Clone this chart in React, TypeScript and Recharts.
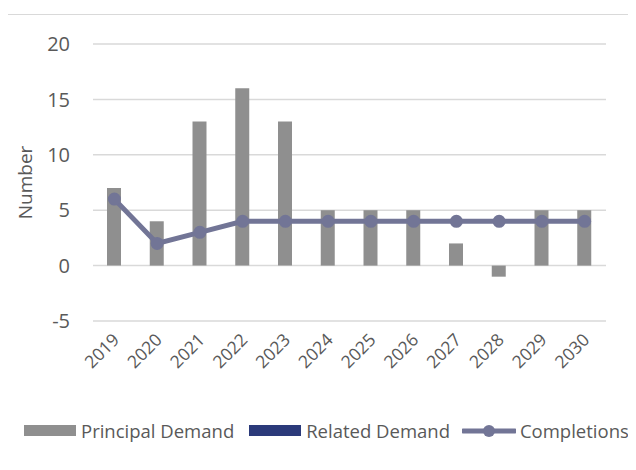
import React from "react";
import {
  Bar,
  CartesianGrid,
  ComposedChart,
  Legend,
  Line,
  XAxis,
  YAxis
} from "recharts";

const years = ["2019", "2020", "2021", "2022", "2023", "2024", "2025", "2026", "2027", "2028", "2029", "2030"];
const principalDemand = [7, 4, 13, 16, 13, 5, 5, 5, 2, -1, 5, 5];
const relatedDemand = [0, 0, 0, 0, 0, 0, 0, 0, 0, 0, 0, 0];
const completions = [6, 2, 3, 4, 4, 4, 4, 4, 4, 4, 4, 4];
const yTicks = [-5, 0, 5, 10, 15, 20];

const FONT = "'Open Sans', sans-serif";
const TEXT = "#595959";
const BAR_GREY = "#8f8f8f";
const NAVY = "#2b3a7a";
const LINE_COLOR = "#727596";

const data = years.map((year, i) => ({
  year,
  principal: principalDemand[i],
  related: relatedDemand[i],
  completions: completions[i]
}));

// rotated year labels, like the spreadsheet's -45deg axis
const YearTick = (props: any) => {
  const { x, y, payload } = props;
  return (
    <g transform={`translate(${x + 6},${y + 12})`}>
      <text
        textAnchor="end"
        transform="rotate(-45)"
        fontSize={17.5}
        fontFamily={FONT}
        fill={TEXT}
      >
        {payload.value}
      </text>
    </g>
  );
};

const LegendBox = () => (
  <div
    style={{
      display: "flex",
      alignItems: "center",
      fontFamily: FONT,
      fontSize: 18.5,
      color: TEXT,
      whiteSpace: "nowrap"
    }}
  >
    <span style={{ display: "inline-block", width: 52, height: 11, background: BAR_GREY, marginRight: 5 }} />
    <span style={{ marginRight: 15 }}>Principal Demand</span>
    <span style={{ display: "inline-block", width: 52, height: 11, background: NAVY, marginRight: 5 }} />
    <span style={{ marginRight: 12 }}>Related Demand</span>
    <svg width={54} height={14} style={{ marginRight: 4 }}>
      <line x1={1} y1={7} x2={53} y2={7} stroke={LINE_COLOR} strokeWidth={5} strokeLinecap="round" />
      <circle cx={27} cy={7} r={6} fill={LINE_COLOR} />
    </svg>
    <span>Completions</span>
  </div>
);

export default function App() {
  return (
    <div style={{ position: "relative", width: 636, height: 470, margin: -8, background: "#fff" }}>
      <div
        style={{
          position: "absolute",
          left: 7,
          top: 14,
          width: 626,
          height: 470,
          border: "1px solid #d9d9d9",
          boxSizing: "border-box"
        }}
      />
      <div style={{ position: "absolute", left: 0, top: 0 }}>
        <ComposedChart
          width={636}
          height={470}
          data={data}
          margin={{ top: 44, right: 30, bottom: 64, left: 0 }}
          barSize={14}
        >
          <CartesianGrid vertical={false} stroke="#d9d9d9" strokeWidth={1.5} />
          <XAxis
            dataKey="year"
            axisLine={false}
            tickLine={false}
            interval={0}
            height={60}
            tick={<YearTick />}
          />
          <YAxis
            width={93}
            domain={[-5, 20]}
            ticks={yTicks}
            axisLine={false}
            tickLine={false}
            tickSize={0}
            tickMargin={23}
            tick={{ fontSize: 20, fontFamily: FONT, fill: TEXT }}
            label={{
              value: "Number",
              angle: -90,
              position: "insideLeft",
              offset: 25,
              style: { fontSize: 19, fontFamily: FONT, fill: TEXT, textAnchor: "middle" }
            }}
          />
          <Legend
            verticalAlign="bottom"
            content={<LegendBox />}
            wrapperStyle={{ left: 24, top: 418, width: 620 }}
          />
          <Bar dataKey="principal" stackId="demand" fill={BAR_GREY} isAnimationActive={false} />
          <Bar dataKey="related" stackId="demand" fill={NAVY} isAnimationActive={false} />
          <Line
            dataKey="completions"
            stroke={LINE_COLOR}
            strokeWidth={5}
            dot={{ r: 6.5, fill: LINE_COLOR, stroke: LINE_COLOR, strokeWidth: 0 }}
            activeDot={false}
            isAnimationActive={false}
          />
        </ComposedChart>
      </div>
    </div>
  );
}
